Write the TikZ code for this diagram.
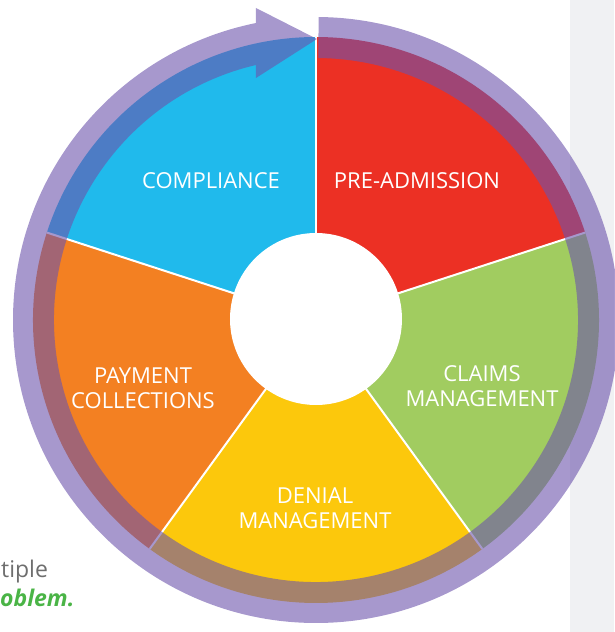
\documentclass[tikz,border=0pt]{standalone}
\usepackage{fontspec}
\setmainfont{Open Sans}
\usepackage{xcolor}
\usepackage{tikz}
\usetikzlibrary{positioning,calc}

\definecolor{cycleblue}{RGB}{32,186,236}
\definecolor{cyclered}{RGB}{236,48,36}
\definecolor{cyclegreen}{RGB}{161,204,96}
\definecolor{cycleyellow}{RGB}{252,200,12}
\definecolor{cycleorange}{RGB}{243,128,34}
\definecolor{ringpurple}{RGB}{108,84,172}
\definecolor{panelgray}{RGB}{240,241,243}
\definecolor{notegray}{RGB}{110,110,110}
\definecolor{notegreen}{RGB}{74,180,70}

\begin{document}
\begin{tikzpicture}[
    x=1pt, y=1pt,
    wedge/.style={draw=none},
    divider/.style={draw=white, line width=2pt},
    ring/.style={fill=ringpurple, fill opacity=0.6, draw=none},
    phase/.style={text=white, align=center, inner sep=0pt, font=\fontsize{22}{25}\selectfont},
    note/.style={anchor=base west, inner sep=0pt, font=\fontsize{23}{28}\selectfont},
]
\useasboundingbox (-316,-312) rectangle (298,320);

% Side panel
\fill[panelgray] (254,-312) rectangle (298,320);

% Wedges of the cycle
\fill[wedge, cyclered] (0,0) -- (90:283) arc[start angle=90, end angle=18, radius=283] -- cycle;
\fill[wedge, cyclegreen] (0,0) -- (18:283) arc[start angle=18, end angle=-54, radius=283] -- cycle;
\fill[wedge, cycleyellow] (0,0) -- (-54:283) arc[start angle=-54, end angle=-126, radius=283] -- cycle;
\fill[wedge, cycleorange] (0,0) -- (-126:283) arc[start angle=-126, end angle=-198, radius=283] -- cycle;
\fill[wedge, cycleblue] (0,0) -- (162:283) arc[start angle=162, end angle=90, radius=283] -- cycle;

% Dividers between the wedges
\coordinate (hub) at (0,0);
\draw[divider] (hub) -- (90:283);
\draw[divider] (hub) -- (18:283);
\draw[divider] (hub) -- (-54:283);
\draw[divider] (hub) -- (-126:283);
\draw[divider] (hub) -- (162:283);

% Hole in the middle
\fill[white] (0,1) circle[radius=86];

% Ring with arrowhead
\fill[ring] (89.5:303) arc[start angle=89.5, end angle=-258.54, radius=303]
    -- (-60,312) -- (1,281) -- (-60,242)
    -- (-256.76:262) arc[start angle=-256.76, end angle=89.5, radius=262] -- cycle;

% Labels
\node[phase] (compliance) at (-105,139) {COMPLIANCE};
\node[phase] (preadmission) at (101,139) {PRE-ADMISSION};
\node[phase] (claims) at (166,-66) {CLAIMS\\MANAGEMENT};
\node[phase] (denial) at (-1,-188) {DENIAL\\MANAGEMENT};
\node[phase] (payment) at (-173,-68) {PAYMENT\\COLLECTIONS};

% Text at the left edge
\node[note, text=notegray] (tiple) at (-315,-257) {tiple};
\node[note, text=notegreen, font=\fontsize{23}{28}\selectfont\bfseries\itshape] (oblem) at (-316,-286) {oblem.};

\end{tikzpicture}
\end{document}
